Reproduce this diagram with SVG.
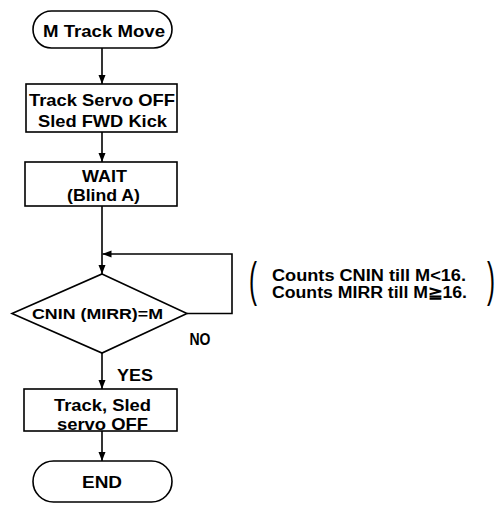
<svg xmlns="http://www.w3.org/2000/svg" width="503" height="512" viewBox="0 0 503 512">
<defs>
<style>
.shape{fill:#fff;stroke:#000;stroke-width:1.6}
.conn{fill:none;stroke:#000;stroke-width:1.6}
text{font-family:"Liberation Sans",Arial,sans-serif;fill:#000;font-weight:bold}
.t17{font-size:17px}
.t16{font-size:16px}
.t15{font-size:15px}
.paren{font-weight:normal;font-size:40px}
</style>
<marker id="arr" markerUnits="userSpaceOnUse" markerWidth="9" markerHeight="8" refX="9" refY="4" orient="auto">
<path d="M0,0.5 L9,4 L0,7.5 z" fill="#000"/>
</marker>
</defs>
<rect width="503" height="512" fill="#fff"/>
<g id="connectors">
<path class="conn" d="M102,48 V84" marker-end="url(#arr)"/>
<path class="conn" d="M102,132 V162" marker-end="url(#arr)"/>
<path class="conn" d="M102,206 V274" marker-end="url(#arr)"/>
<path class="conn" d="M187,313.5 H232 V254 H102.5" marker-end="url(#arr)"/>
<path class="conn" d="M102,353 V389" marker-end="url(#arr)"/>
<path class="conn" d="M102,431 V461" marker-end="url(#arr)"/>
</g>
<g id="start">
<rect class="shape" x="33" y="11" width="139" height="37" rx="18.5"/>
<text class="t16" x="104" y="36.5" text-anchor="middle" textLength="122" lengthAdjust="spacingAndGlyphs">M Track Move</text>
</g>
<g id="kick">
<rect class="shape" x="26" y="84" width="151" height="48"/>
<text class="t17" x="102" y="106" text-anchor="middle" textLength="146" lengthAdjust="spacingAndGlyphs">Track Servo OFF</text>
<text class="t17" x="102.5" y="127" text-anchor="middle" textLength="129" lengthAdjust="spacingAndGlyphs">Sled FWD Kick</text>
</g>
<g id="wait">
<rect class="shape" x="25" y="162" width="152" height="44"/>
<text class="t17" x="104.5" y="182" text-anchor="middle" textLength="45" lengthAdjust="spacingAndGlyphs">WAIT</text>
<text class="t17" x="103.5" y="201" text-anchor="middle" textLength="73" lengthAdjust="spacingAndGlyphs">(Blind A)</text>
</g>
<g id="decision">
<polygon class="shape" points="102,274 187,313.5 102,353 12,313.5"/>
<text class="t15" x="97.5" y="319" text-anchor="middle" textLength="131" lengthAdjust="spacingAndGlyphs">CNIN (MIRR)=M</text>
<text class="t16" x="200" y="345" text-anchor="middle" textLength="21" lengthAdjust="spacingAndGlyphs">NO</text>
<text class="t16" x="117" y="381" textLength="36" lengthAdjust="spacingAndGlyphs">YES</text>
</g>
<g id="note">
<text class="paren" transform="translate(249,296) scale(0.6,1.2)">(</text>
<text class="t16" x="272" y="281" textLength="194" lengthAdjust="spacingAndGlyphs">Counts CNIN till M&lt;16.</text>
<text class="t16" x="272" y="298" textLength="195" lengthAdjust="spacingAndGlyphs">Counts MIRR till M≧16.</text>
<text class="paren" transform="translate(487,296) scale(0.6,1.2)">)</text>
</g>
<g id="servo-off">
<rect class="shape" x="24" y="389" width="153" height="42"/>
<text class="t17" x="102.5" y="411" text-anchor="middle" textLength="97" lengthAdjust="spacingAndGlyphs">Track, Sled</text>
<text class="t17" x="102.5" y="430" text-anchor="middle" textLength="91" lengthAdjust="spacingAndGlyphs">servo OFF</text>
</g>
<g id="end">
<rect class="shape" x="33" y="461" width="139" height="41" rx="20.5"/>
<text class="t16" x="102" y="488" text-anchor="middle" textLength="40" lengthAdjust="spacingAndGlyphs">END</text>
</g>
</svg>
